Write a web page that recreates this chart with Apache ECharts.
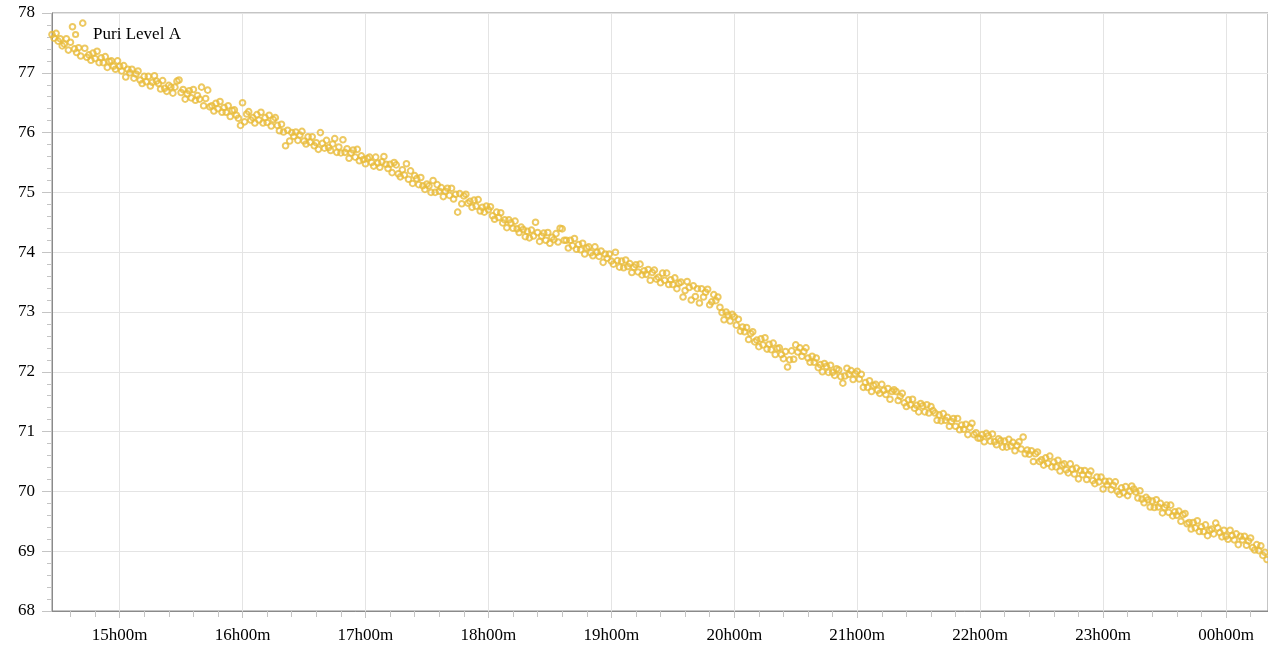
<!DOCTYPE html>
<html>
<head>
<meta charset="utf-8">
<script src="https://cdn.jsdelivr.net/npm/echarts@6/dist/echarts.min.js"></script>
<style>
html,body{margin:0;padding:0;background:#fff;}
#chart{width:1268px;height:645px;}
</style>
</head>
<body>
<div id="chart"></div>
<script>
// Series name
const seriesName = 'Puri Level A';
// First sample at 14:27, one reading per minute
const startTime = new Date(2024, 0, 1, 14, 27, 0).getTime();
const endTime = new Date(2024, 0, 2, 0, 20, 30).getTime();
const sampleStepMs = 60 * 1000;

// Readings by hour (14:27-14:59, 15:00-15:59, ..., 00:00-00:20)
const h14 = [77.64,77.58,77.66,77.53,77.57,77.45,77.48,77.57,77.38,77.51,77.77,77.40,77.34,77.42,77.28,77.83,77.41,77.26,77.30,77.21,77.33,77.24,77.36,77.17,77.25,77.17,77.27,77.09,77.19,77.20,77.11,77.06,77.20];
const h15 = [77.11,77.03,77.12,76.93,77.06,77.00,77.06,76.91,76.98,77.03,76.88,76.82,76.94,76.85,76.94,76.78,76.84,76.95,76.86,76.82,76.73,76.87,76.74,76.69,76.79,76.76,76.66,76.76,76.86,76.88,76.67,76.72,76.56,76.65,76.70,76.58,76.72,76.54,76.62,76.56,76.76,76.45,76.57,76.71,76.43,76.45,76.36,76.49,76.40,76.52,76.34,76.42,76.34,76.45,76.27,76.37,76.38,76.29,76.24,76.12];
const h16 = [76.50,76.18,76.31,76.35,76.21,76.25,76.16,76.30,76.21,76.34,76.16,76.25,76.17,76.29,76.11,76.22,76.25,76.12,76.03,76.14,76.01,75.78,76.04,75.86,76.00,75.94,76.01,75.87,75.96,76.02,75.86,75.81,75.93,75.84,75.93,75.78,75.83,75.72,76.00,75.82,75.74,75.87,75.75,75.70,75.81,75.90,75.67,75.76,75.66,75.88,75.67,75.73,75.57,75.66,75.71,75.59,75.72,75.53,75.61,75.55];
const h17 = [75.48,75.57,75.59,75.50,75.44,75.59,75.49,75.42,75.51,75.60,75.47,75.40,75.47,75.33,75.50,75.46,75.31,75.26,75.38,75.29,75.48,75.22,75.36,75.15,75.28,75.23,75.13,75.25,75.11,75.05,75.14,75.11,75.00,75.20,75.00,75.13,75.02,75.08,74.93,75.02,75.07,74.95,75.07,74.89,74.97,74.67,74.98,74.81,74.94,74.97,74.82,74.85,74.75,74.87,74.77,74.88,74.69,74.75,74.67,74.77];
const h18 = [74.71,74.76,74.61,74.55,74.67,74.58,74.66,74.49,74.54,74.41,74.54,74.49,74.40,74.52,74.39,74.33,74.42,74.38,74.26,74.35,74.24,74.37,74.27,74.50,74.33,74.18,74.27,74.32,74.20,74.33,74.15,74.25,74.21,74.31,74.17,74.40,74.39,74.20,74.20,74.07,74.20,74.11,74.23,74.05,74.13,74.04,74.15,73.97,74.07,74.09,73.99,73.94,74.09,74.00,73.93,74.02,73.83,73.97,73.90,73.97];
const h19 = [73.85,73.80,74.00,73.86,73.75,73.85,73.74,73.87,73.76,73.81,73.66,73.75,73.79,73.67,73.80,73.62,73.69,73.63,73.71,73.53,73.66,73.70,73.55,73.58,73.49,73.65,73.53,73.65,73.46,73.54,73.46,73.57,73.39,73.48,73.50,73.25,73.36,73.51,73.41,73.20,73.44,73.26,73.39,73.15,73.39,73.25,73.33,73.38,73.12,73.17,73.29,73.19,73.25,73.08,72.99,72.87,73.00,72.95,72.85,72.96];
const h20 = [72.92,72.78,72.88,72.68,72.75,72.67,72.74,72.54,72.64,72.67,72.50,72.53,72.42,72.55,72.45,72.57,72.38,72.46,72.37,72.48,72.29,72.39,72.40,72.29,72.22,72.34,72.08,72.20,72.35,72.21,72.45,72.33,72.40,72.26,72.34,72.40,72.23,72.16,72.26,72.16,72.23,72.07,72.12,72.00,72.14,72.09,71.99,72.11,71.99,71.94,72.05,72.03,71.92,71.81,71.93,72.06,71.96,72.02,71.87,71.97];
const h21 = [72.01,71.88,71.96,71.74,71.82,71.74,71.85,71.67,71.77,71.79,71.69,71.64,71.79,71.69,71.62,71.72,71.54,71.67,71.70,71.67,71.52,71.59,71.64,71.48,71.42,71.53,71.45,71.54,71.39,71.44,71.33,71.47,71.43,71.33,71.45,71.31,71.42,71.35,71.31,71.19,71.28,71.18,71.30,71.19,71.24,71.09,71.17,71.22,71.09,71.22,71.03,71.11,71.04,71.12,70.95,71.07,71.14,70.95,70.98,70.89];
const h22 = [70.89,70.95,70.83,70.97,70.93,70.84,70.96,70.83,70.78,70.88,70.85,70.74,70.84,70.74,70.87,70.76,70.82,70.68,70.77,70.83,70.71,70.91,70.63,70.69,70.62,70.68,70.50,70.63,70.66,70.50,70.53,70.44,70.56,70.47,70.59,70.41,70.49,70.41,70.52,70.34,70.44,70.46,70.36,70.31,70.46,70.37,70.29,70.39,70.21,70.35,70.28,70.35,70.20,70.28,70.34,70.18,70.13,70.24,70.16,70.24];
const h23 = [70.04,70.17,70.11,70.17,70.03,70.10,70.16,70.00,69.95,70.06,69.98,70.08,69.93,70.00,70.09,70.04,69.99,69.89,70.01,69.87,69.81,69.90,69.86,69.74,69.84,69.73,69.86,69.74,69.80,69.64,69.73,69.77,69.65,69.77,69.59,69.66,69.60,69.67,69.50,69.61,69.63,69.46,69.48,69.37,69.48,69.39,69.51,69.33,69.41,69.33,69.44,69.26,69.35,69.37,69.29,69.47,69.39,69.31,69.24,69.35];
const h00 = [69.25,69.20,69.35,69.26,69.19,69.29,69.11,69.25,69.19,69.25,69.10,69.17,69.22,69.06,69.02,69.11,69.01,69.09,68.93,68.98,68.86];

// Y axis range
const yMin = 68, yMax = 78, yInterval = 1;
// Minor tick spacing on the time axis (minutes)
const minorStepMin = 12;

const readings = [].concat(h14, h15, h16, h17, h18, h19, h20, h21, h22, h23, h00);
const points = readings.map((v, i) => [startTime + i * sampleStepMs, v]);

// minor tick positions: every 12 minutes aligned to whole hours, skipping the hours
const minorTicks = [];
const firstHour = new Date(2024, 0, 1, 14, 0, 0).getTime();
for (let t = firstHour; t <= endTime; t += minorStepMin * 60000) {
  if (t >= startTime && (t - firstHour) % 3600000 !== 0) minorTicks.push(t);
}

const pad = n => (n < 10 ? '0' : '') + n;
const font = 'Liberation Serif, Times New Roman, serif';
const color = '#e8bb3b';
const axisColor = '#8a8a8a';
const tickColor = '#c4c4c4';

const chart = echarts.init(document.getElementById('chart'), null, {renderer: 'canvas'});
chart.setOption({
  animation: false,
  backgroundColor: '#fff',
  grid: {
    left: 52, right: -1, top: 13, bottom: 34,
    show: true, borderColor: axisColor, borderWidth: 1, backgroundColor: 'transparent'
  },
  legend: {
    left: 67, top: 21,
    itemWidth: 25, itemHeight: 5.2,
    textStyle: {fontFamily: font, fontSize: 17, color: '#000'},
    data: [seriesName]
  },
  xAxis: [{
    type: 'time',
    min: startTime, max: endTime,
    minInterval: 3600 * 1000, maxInterval: 3600 * 1000,
    axisLine: {show: true, lineStyle: {color: axisColor, width: 1}},
    axisTick: {show: true, length: 7, lineStyle: {color: tickColor}},
    minorTick: {show: false},
    splitLine: {show: true, lineStyle: {color: '#e4e4e4', width: 1}},
    axisLabel: {
      fontFamily: font, fontSize: 17, color: '#000', margin: 16,
      formatter: v => { const d = new Date(v); return pad(d.getHours()) + 'h' + pad(d.getMinutes()) + 'm'; }
    }
  }, {
    type: 'time',
    position: 'bottom',
    min: startTime, max: endTime,
    axisLine: {show: false},
    axisTick: {show: true, length: 6, customValues: minorTicks, lineStyle: {color: tickColor}},
    axisLabel: {show: false},
    splitLine: {show: false},
    minorTick: {show: false}
  }],
  yAxis: {
    type: 'value',
    min: yMin, max: yMax, interval: yInterval,
    axisLine: {show: true, lineStyle: {color: axisColor, width: 1}},
    axisTick: {show: true, length: 10, lineStyle: {color: tickColor}},
    minorTick: {show: true, splitNumber: 5, length: 5, lineStyle: {color: tickColor}},
    splitLine: {show: true, lineStyle: {color: '#e4e4e4', width: 1}},
    axisLabel: {fontFamily: font, fontSize: 17, color: '#000', margin: 17}
  },
  series: [{
    name: seriesName,
    type: 'scatter',
    xAxisIndex: 0,
    symbol: 'circle',
    symbolSize: 5.6,
    itemStyle: {color: 'rgba(255,255,255,0)', borderColor: color, borderWidth: 2},
    data: points
  }]
});
</script>
</body>
</html>
